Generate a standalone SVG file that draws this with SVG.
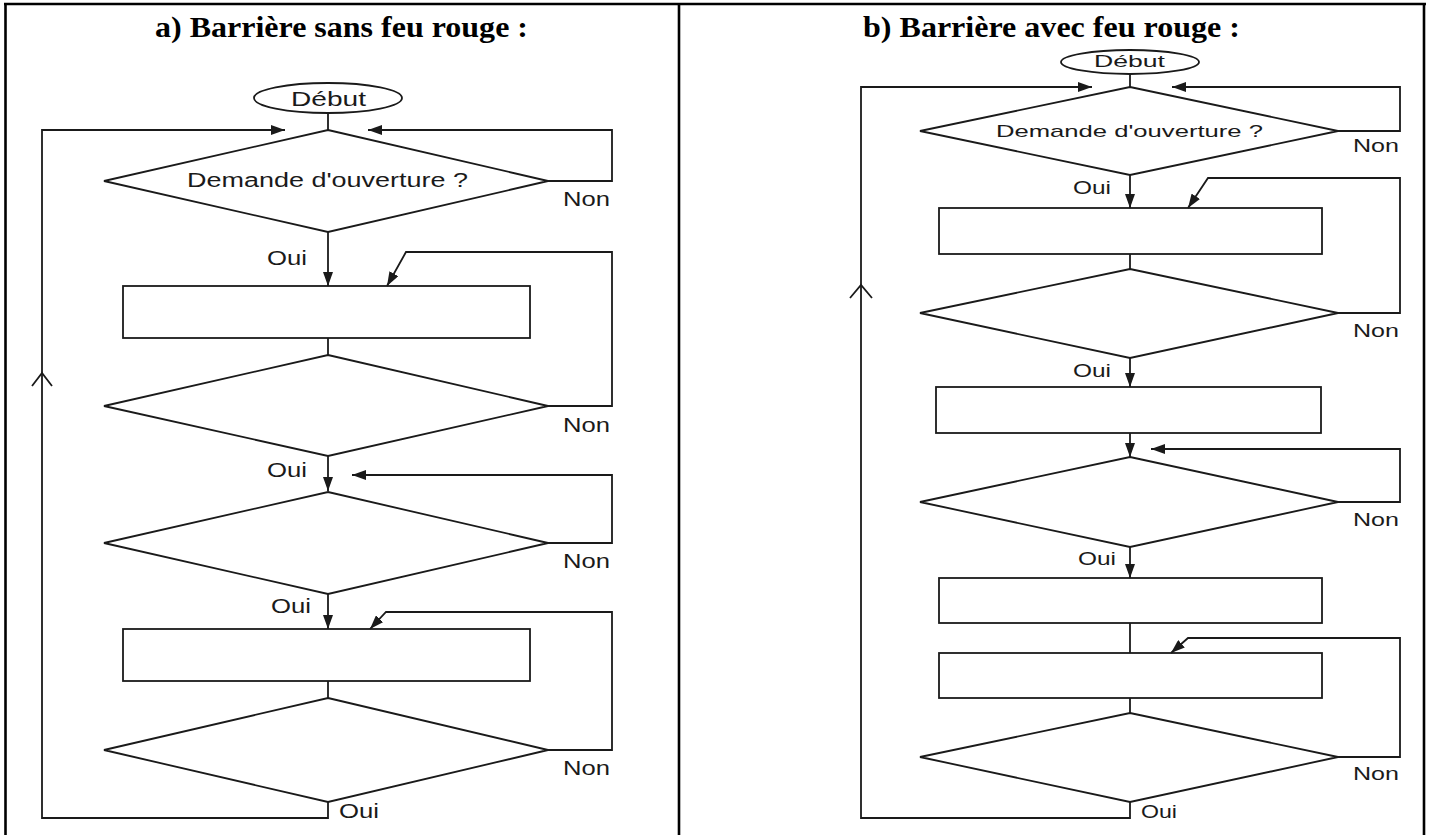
<svg xmlns="http://www.w3.org/2000/svg" width="1430" height="835" viewBox="0 0 1430 835">
<defs>
<style>
.frame{stroke:#000;stroke-width:2.6;fill:none}
.shape{fill:none;stroke:#1a1a1a;stroke-width:1.8}
.conn{fill:none;stroke:#1a1a1a;stroke-width:1.8;stroke-linecap:butt}
.arr{marker-end:url(#ah)}
.title{font-family:"Liberation Serif","Times New Roman",serif;font-weight:bold;font-size:29px;fill:#000}
.lbl{font-family:"Liberation Sans",Arial,sans-serif;fill:#1a1a1a}
.big{font-size:21px}
.sm{font-size:18px}
</style>
<marker id="ah" viewBox="0 0 14 10" refX="14" refY="5" markerWidth="14" markerHeight="10" markerUnits="userSpaceOnUse" orient="auto">
<path d="M0,0 L14,5 L0,10 z" fill="#1a1a1a"/>
</marker>
</defs>
<rect width="1430" height="835" fill="#fff"/>
<g id="frame">
<line class="frame" x1="4" y1="4" x2="1426" y2="4"/>
<line class="frame" x1="5.5" y1="4" x2="5.5" y2="835"/>
<line class="frame" x1="679" y1="4" x2="679" y2="835"/>
<line class="frame" x1="1424" y1="4" x2="1424" y2="835"/>
</g>
<g id="titles">
<text class="title" x="155" y="37" textLength="373" lengthAdjust="spacingAndGlyphs">a) Barrière sans feu rouge :</text>
<text class="title" x="863" y="37" textLength="377" lengthAdjust="spacingAndGlyphs">b) Barrière avec feu rouge :</text>
</g>
<!-- Left flowchart -->
<g id="a-debut"><ellipse class="shape" cx="328" cy="98" rx="74" ry="15"/><text class="lbl big" x="291" y="106" textLength="75" lengthAdjust="spacingAndGlyphs">Début</text></g>
<g id="a-d1"><polygon class="shape" points="328,130 548,181 328,232 104,181"/><text class="lbl" font-size="20" x="187" y="187" textLength="281" lengthAdjust="spacingAndGlyphs">Demande d'ouverture ?</text></g>
<g id="a-r1"><rect class="shape" x="123" y="286" width="407" height="52"/></g>
<g id="a-d2"><polygon class="shape" points="328,355 548,406 328,456 104,406"/></g>
<g id="a-d3"><polygon class="shape" points="328,492 548,543 328,594 104,543"/></g>
<g id="a-r2"><rect class="shape" x="123" y="629" width="407" height="52"/></g>
<g id="a-d4"><polygon class="shape" points="328,698 548,750 328,802 104,750"/></g>
<!-- Right flowchart -->
<g id="b-debut"><ellipse class="shape" cx="1130" cy="62" rx="69" ry="12"/><text class="lbl" font-size="17" x="1094" y="67" textLength="71" lengthAdjust="spacingAndGlyphs">Début</text></g>
<g id="b-d1"><polygon class="shape" points="1130,87 1338,131 1130,175 920,131"/><text class="lbl" font-size="17" x="996" y="137" textLength="267" lengthAdjust="spacingAndGlyphs">Demande d'ouverture ?</text></g>
<g id="b-r1"><rect class="shape" x="939" y="208" width="383" height="46"/></g>
<g id="b-d2"><polygon class="shape" points="1130,269 1338,313 1130,358 920,313"/></g>
<g id="b-r2"><rect class="shape" x="936" y="387" width="385" height="46"/></g>
<g id="b-d3"><polygon class="shape" points="1130,457 1338,502 1130,547 920,502"/></g>
<g id="b-r3"><rect class="shape" x="939" y="578" width="383" height="45"/></g>
<g id="b-r4"><rect class="shape" x="939" y="653" width="383" height="45"/></g>
<g id="b-d4"><polygon class="shape" points="1130,713 1338,757 1130,802 920,757"/></g>
<g id="connectors">
<!-- left -->
<line class="conn" x1="328" y1="113" x2="328" y2="130"/>
<line class="conn" x1="328" y1="338" x2="328" y2="355"/>
<line class="conn" x1="328" y1="681" x2="328" y2="698"/>
<line class="conn arr" x1="328" y1="232" x2="328" y2="286"/>
<line class="conn arr" x1="328" y1="456" x2="328" y2="491"/>
<line class="conn arr" x1="328" y1="594" x2="328" y2="629"/>
<polyline class="conn arr" points="548,181 612,181 612,130 368,130"/>
<polyline class="conn arr" points="548,406 612,406 612,252 406,252 387,286"/>
<polyline class="conn arr" points="548,543 612,543 612,475 352,475"/>
<polyline class="conn arr" points="548,750 612,750 612,612 386,612 370,629"/>
<polyline class="conn arr" points="328,802 328,818 42,818 42,130 285,130"/>
<polyline class="conn" points="32,386 42,373 52,386"/>
<!-- right -->
<line class="conn" x1="1130" y1="74" x2="1130" y2="87"/>
<line class="conn" x1="1130" y1="254" x2="1130" y2="269"/>
<line class="conn" x1="1130" y1="623" x2="1130" y2="653"/>
<line class="conn" x1="1130" y1="698" x2="1130" y2="713"/>
<line class="conn arr" x1="1130" y1="175" x2="1130" y2="208"/>
<line class="conn arr" x1="1130" y1="358" x2="1130" y2="387"/>
<line class="conn arr" x1="1130" y1="433" x2="1130" y2="457"/>
<line class="conn arr" x1="1130" y1="547" x2="1130" y2="578"/>
<polyline class="conn arr" points="1338,131 1400,131 1400,87 1172,87"/>
<polyline class="conn arr" points="1338,313 1400,313 1400,178 1208,178 1188,208"/>
<polyline class="conn arr" points="1338,502 1400,502 1400,449 1151,449"/>
<polyline class="conn arr" points="1338,757 1400,757 1400,638 1188,638 1171,653"/>
<polyline class="conn arr" points="1130,802 1130,818 861,818 861,87 1092,87"/>
<polyline class="conn" points="850,298 861,285 872,298"/>
</g>
<g id="labels">
<text class="lbl big" x="563" y="206" textLength="47" lengthAdjust="spacingAndGlyphs">Non</text>
<text class="lbl big" x="267" y="265" textLength="40" lengthAdjust="spacingAndGlyphs">Oui</text>
<text class="lbl big" x="563" y="432" textLength="47" lengthAdjust="spacingAndGlyphs">Non</text>
<text class="lbl big" x="267" y="477" textLength="40" lengthAdjust="spacingAndGlyphs">Oui</text>
<text class="lbl big" x="563" y="568" textLength="47" lengthAdjust="spacingAndGlyphs">Non</text>
<text class="lbl big" x="271" y="613" textLength="40" lengthAdjust="spacingAndGlyphs">Oui</text>
<text class="lbl big" x="563" y="775" textLength="47" lengthAdjust="spacingAndGlyphs">Non</text>
<text class="lbl big" x="339" y="818" textLength="40" lengthAdjust="spacingAndGlyphs">Oui</text>
<text class="lbl sm" x="1353" y="152" textLength="46" lengthAdjust="spacingAndGlyphs">Non</text>
<text class="lbl sm" x="1073" y="194" textLength="38" lengthAdjust="spacingAndGlyphs">Oui</text>
<text class="lbl sm" x="1353" y="337" textLength="46" lengthAdjust="spacingAndGlyphs">Non</text>
<text class="lbl sm" x="1073" y="377" textLength="38" lengthAdjust="spacingAndGlyphs">Oui</text>
<text class="lbl sm" x="1353" y="526" textLength="46" lengthAdjust="spacingAndGlyphs">Non</text>
<text class="lbl sm" x="1078" y="565" textLength="38" lengthAdjust="spacingAndGlyphs">Oui</text>
<text class="lbl sm" x="1353" y="780" textLength="46" lengthAdjust="spacingAndGlyphs">Non</text>
<text class="lbl sm" x="1141" y="818" textLength="36" lengthAdjust="spacingAndGlyphs">Oui</text>
</g>
</svg>
